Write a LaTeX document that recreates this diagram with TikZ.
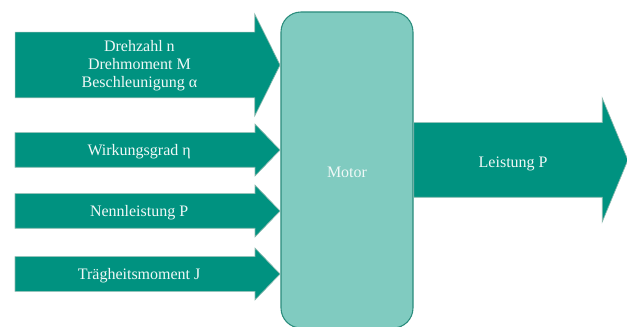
\documentclass[tikz,border=0pt]{standalone}
\usepackage{fontspec}
\setmainfont{Liberation Serif}
\usepackage{xcolor}
\usepackage{tikz}
\usetikzlibrary{shapes,arrows,positioning,calc}

\definecolor{flowteal}{RGB}{0,146,128}
\definecolor{boxteal}{RGB}{128,203,192}
\definecolor{edgeteal}{RGB}{42,140,124}
\definecolor{arrowedge}{RGB}{140,185,175}

\begin{document}
\begin{tikzpicture}[x=0.75pt, y=0.75pt,
    every node/.style={font=\fontsize{12}{13.5}\selectfont, text=white!94!flowteal},
    motorbox/.style={draw=edgeteal, line width=0.8pt, fill=boxteal, rectangle, rounded corners=15pt, minimum width=99pt, minimum height=237pt, text height=12pt, text depth=0pt},
    inarrow/.style={draw=arrowedge, line width=0.5pt, fill=flowteal, single arrow, inner sep=0pt, anchor=tip, minimum height=198.75pt, single arrow head extend=6.4pt, single arrow tip angle=92, text height=16.75pt, text depth=8.75pt, align=center},
    outarrow/.style={draw=arrowedge, line width=0.5pt, fill=flowteal, single arrow, inner sep=0pt, anchor=tail, minimum height=160.5pt, single arrow head extend=18.4pt, single arrow tip angle=135, text height=33.5pt, text depth=22pt}]
    \useasboundingbox (0,0) rectangle (627,-327);

    % Motor block
    \node[motorbox] (motor) at (347,-170) {Motor};

    % Inputs
    \node[inarrow, single arrow head extend=13.5pt, single arrow tip angle=127, text height=41.25pt, text depth=7.5pt] (speed) at (motor.west |- 0,-65) {Drehzahl n\\Drehmoment M\\Beschleunigung α};
    \node[inarrow] (eff) at (motor.west |- 0,-150) {Wirkungsgrad η};
    \node[inarrow] (rated) at (motor.west |- 0,-211) {Nennleistung P};
    \node[inarrow] (inertia) at (motor.west |- 0,-274) {Trägheitsmoment J};

    % Output
    \node[outarrow] (power) at (motor.east |- 0,-160) {Leistung P};
\end{tikzpicture}
\end{document}
